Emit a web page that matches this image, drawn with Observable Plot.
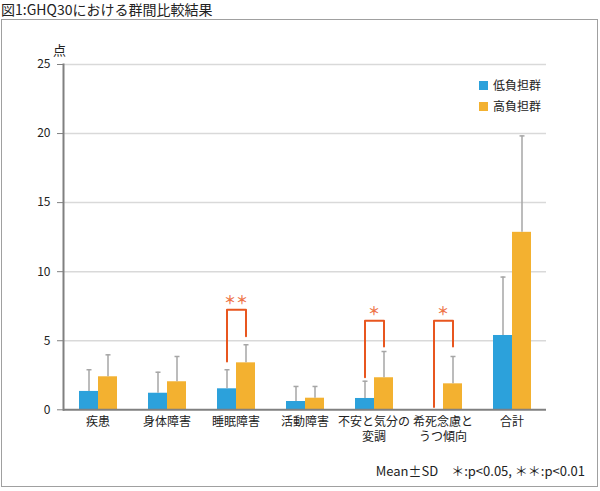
<!DOCTYPE html>
<html><head><meta charset="utf-8">
<script src="https://cdn.jsdelivr.net/npm/d3@7"></script>
<script src="https://cdn.jsdelivr.net/npm/@observablehq/plot@0.6"></script>
<style>
body{margin:0;width:600px;height:491px;position:relative;font-family:"Noto Sans CJK JP",sans-serif;color:#222;background:#fff;overflow:hidden}
#title{position:absolute;left:1px;top:0;font-size:14px;line-height:18px;white-space:nowrap}
#box{position:absolute;left:1px;top:19px;width:597px;height:468px;border:1px solid #a0a0a0;box-sizing:border-box}
#chart{position:absolute;left:0;top:0}
#unit{position:absolute;left:53px;top:41px;font-size:13px;line-height:18px}
.leg{position:absolute;left:479px;font-size:12px;line-height:16px;white-space:nowrap}
.leg span{display:inline-block;width:9px;height:9px;margin-right:5px;vertical-align:-0px}
#note{position:absolute;right:15px;top:462px;font-size:13px;line-height:18px;white-space:nowrap}
</style></head>
<body>
<div id="title">図1:GHQ30における群間比較結果</div>
<div id="box"></div>
<div id="chart"></div>
<div id="unit">点</div>
<div id="legend"></div>
<div id="note">Mean±SD　＊:p&lt;0.05, ＊＊:p&lt;0.01</div>
<script>
const categories = ["疾患","身体障害","睡眠障害","活動障害","不安と気分の変調","希死念慮とうつ傾向","合計"];
const categoryLabels = ["疾患","身体障害","睡眠障害","活動障害","不安と気分の\n変調","希死念慮と\nうつ傾向","合計"];
const groups = ["低負担群","高負担群"];
const colors = ["#2ca1db","#f3b130"];
const lowMean = [1.33,1.20,1.52,0.60,0.82,0,5.38];
const lowSD   = [1.57,1.52,1.38,1.09,1.25,0,4.23];
const highMean = [2.39,2.03,3.40,0.84,2.32,1.88,12.85];
const highSD   = [1.59,1.83,1.31,0.85,1.90,1.98,6.98];
const yTicks = [0,5,10,15,20,25];
// significance brackets
const sigCats = ["睡眠障害","不安と気分の変調","希死念慮とうつ傾向"];
const sigMarks = ["＊＊","＊","＊"];
const bracketLeft = [3.5,2.36,0.2];
const bracketTop = [7.25,6.45,6.45];
const bracketRight = [5.33,4.59,4.59];
const starY = [7.85,7.05,7.05];

const rows = [];
categories.forEach((c,i)=>{
  rows.push({cat:c,g:groups[0],mean:lowMean[i],sd:lowSD[i]});
  rows.push({cat:c,g:groups[1],mean:highMean[i],sd:highSD[i]});
});
const errRows = rows.filter(d=>d.sd>0);
const bracketPts = [];
sigCats.forEach((c,i)=>{
  bracketPts.push({cat:c,g:groups[0],y:bracketLeft[i]});
  bracketPts.push({cat:c,g:groups[0],y:bracketTop[i]});
  bracketPts.push({cat:c,g:groups[1],y:bracketTop[i]});
  bracketPts.push({cat:c,g:groups[1],y:bracketRight[i]});
});
const stars = sigCats.map((c,i)=>({cat:c,y:starY[i],t:sigMarks[i]}));
const labelOf = new Map(categories.map((c,i)=>[c,categoryLabels[i]]));
const capSymbol = {draw(ctx){ctx.moveTo(-2.5,0);ctx.lineTo(2.5,0);}};

const chart = Plot.plot({
  width:600, height:491,
  marginLeft:62, marginRight:53.3, marginTop:64, marginBottom:81.7,
  style:{fontFamily:'"Noto Sans CJK JP",sans-serif', color:"#222", background:"transparent"},
  fx:{domain:categories, paddingInner:0, paddingOuter:0},
  x:{domain:groups, paddingInner:0, paddingOuter:0.778, axis:null},
  y:{domain:[0,25]},
  color:{domain:groups, range:colors},
  marks:[
    Plot.gridY({ticks:yTicks.filter(t=>t>0), stroke:"#d9d9d9", strokeOpacity:1, strokeWidth:1.5}),
    Plot.barY(rows,{fx:"cat", x:"g", y:"mean", fill:"g"}),
    Plot.ruleX(errRows,{fx:"cat", x:"g", y1:"mean", y2:d=>d.mean+d.sd, stroke:"#a6a6a6", strokeWidth:1.5}),
    Plot.dot(errRows,{fx:"cat", x:"g", y:d=>d.mean+d.sd, symbol:capSymbol, stroke:"#a6a6a6", strokeWidth:1.5, r:3}),
    Plot.line(bracketPts,{fx:"cat", x:"g", y:"y", z:"cat", stroke:"#e8561f", strokeWidth:2, curve:"linear"}),
    Plot.text(stars,{fx:"cat", y:"y", text:"t", fill:"#ee7448", fontSize:12, fontWeight:"bold"}),
    Plot.ruleY([0],{stroke:"#808080", strokeWidth:2}),
    Plot.frame({anchor:"left", facetAnchor:"left", stroke:"#808080", strokeWidth:2}),
    Plot.axisY({ticks:yTicks, tickSize:6, tickPadding:7, fontSize:12, stroke:"#808080", label:null}),
    Plot.axisFx({anchor:"bottom", tickSize:0, tickPadding:5, fontSize:12, label:null, tickFormat:d=>labelOf.get(d), lineHeight:1.3})
  ]
});
document.getElementById("chart").appendChild(chart);

const legend = document.getElementById("legend");
groups.forEach((g,i)=>{
  const el = document.createElement("div");
  el.className = "leg";
  el.style.top = (77 + i*21) + "px";
  el.innerHTML = `<span style="background:${colors[i]}"></span>${g}`;
  legend.appendChild(el);
});
</script>
</body></html>
